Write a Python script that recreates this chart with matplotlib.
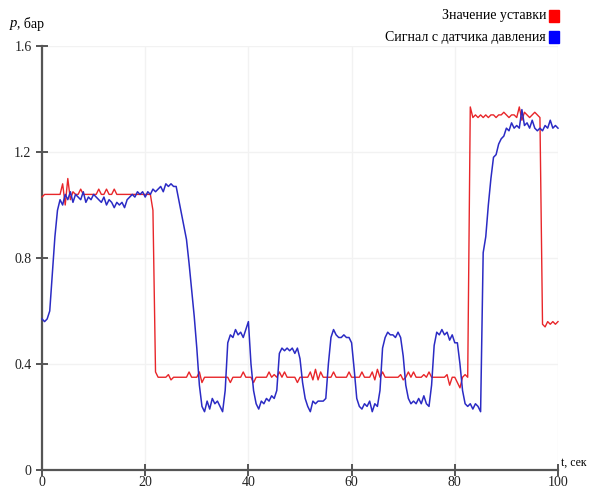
import numpy as np
import matplotlib
matplotlib.use('Agg')
import matplotlib.pyplot as plt
from matplotlib.patches import Rectangle

# samples every 0.5 s, 0..100 s
t = np.linspace(0, 100, 201)

setpoint = [
    1.03, 1.04, 1.04, 1.04, 1.04, 1.04, 1.04, 1.04, 1.08, 1.00,   # 0-4.5
    1.10, 1.02, 1.05, 1.04, 1.04, 1.06, 1.04, 1.04, 1.04, 1.04,   # 5-9.5
    1.04, 1.04, 1.06, 1.04, 1.04, 1.06, 1.04, 1.04, 1.06, 1.04,   # 10-14.5
    1.04, 1.04, 1.04, 1.04, 1.04, 1.04, 1.04, 1.04, 1.04, 1.04,   # 15-19.5
    1.04, 1.04, 1.04, 0.98, 0.37, 0.35, 0.35, 0.35, 0.35, 0.36,   # 20-24.5
    0.34, 0.35, 0.35, 0.35, 0.35, 0.35, 0.35, 0.37, 0.35, 0.35,   # 25-29.5
    0.35, 0.37, 0.33, 0.35, 0.35, 0.35, 0.35, 0.35, 0.35, 0.35,   # 30-34.5
    0.35, 0.35, 0.35, 0.33, 0.35, 0.35, 0.35, 0.35, 0.37, 0.35,   # 35-39.5
    0.35, 0.35, 0.33, 0.35, 0.35, 0.35, 0.35, 0.35, 0.37, 0.35,   # 40-44.5
    0.36, 0.35, 0.37, 0.35, 0.37, 0.35, 0.35, 0.35, 0.35, 0.33,   # 45-49.5
    0.35, 0.35, 0.35, 0.35, 0.37, 0.34, 0.38, 0.34, 0.37, 0.35,   # 50-54.5
    0.35, 0.35, 0.35, 0.37, 0.35, 0.35, 0.35, 0.35, 0.35, 0.37,   # 55-59.5
    0.35, 0.35, 0.35, 0.35, 0.37, 0.35, 0.35, 0.35, 0.37, 0.34,   # 60-64.5
    0.38, 0.35, 0.37, 0.35, 0.35, 0.35, 0.35, 0.35, 0.35, 0.36,   # 65-69.5
    0.34, 0.35, 0.37, 0.35, 0.37, 0.35, 0.35, 0.35, 0.36, 0.35,   # 70-74.5
    0.37, 0.35, 0.35, 0.35, 0.35, 0.35, 0.35, 0.36, 0.32, 0.35,   # 75-79.5
    0.35, 0.33, 0.31, 0.35, 0.36, 0.35, 1.37, 1.33, 1.34, 1.33,   # 80-84.5
    1.34, 1.33, 1.34, 1.33, 1.34, 1.34, 1.33, 1.34, 1.34, 1.35,   # 85-89.5
    1.34, 1.33, 1.34, 1.34, 1.33, 1.37, 1.32, 1.35, 1.34, 1.33,   # 90-94.5
    1.34, 1.35, 1.34, 1.33, 0.55, 0.54, 0.56, 0.55, 0.56, 0.55,   # 95-99.5
    0.56,                                                         # 100
]

pressure = [
    0.57, 0.56, 0.57, 0.60, 0.74, 0.88, 0.98, 1.02, 1.00, 1.04,   # 0-4.5
    1.02, 1.05, 1.01, 1.04, 1.03, 1.02, 1.05, 1.01, 1.03, 1.02,   # 5-9.5
    1.04, 1.03, 1.02, 1.01, 1.03, 1.00, 1.02, 1.01, 0.99, 1.01,   # 10-14.5
    1.00, 1.01, 0.99, 1.02, 1.03, 1.04, 1.03, 1.05, 1.04, 1.05,   # 15-19.5
    1.03, 1.05, 1.04, 1.06, 1.05, 1.06, 1.07, 1.05, 1.08, 1.07,   # 20-24.5
    1.08, 1.07, 1.07, 1.02, 0.97, 0.92, 0.87, 0.78, 0.68, 0.58,   # 25-29.5
    0.46, 0.32, 0.24, 0.22, 0.26, 0.23, 0.27, 0.25, 0.26, 0.24,   # 30-34.5
    0.22, 0.30, 0.48, 0.51, 0.50, 0.53, 0.51, 0.52, 0.50, 0.53,   # 35-39.5
    0.56, 0.40, 0.30, 0.25, 0.23, 0.26, 0.25, 0.27, 0.26, 0.28,   # 40-44.5
    0.27, 0.30, 0.44, 0.46, 0.45, 0.46, 0.45, 0.46, 0.44, 0.46,   # 45-49.5
    0.42, 0.33, 0.27, 0.24, 0.22, 0.26, 0.25, 0.26, 0.26, 0.26,   # 50-54.5
    0.27, 0.40, 0.50, 0.53, 0.51, 0.50, 0.50, 0.51, 0.50, 0.50,   # 55-59.5
    0.48, 0.38, 0.27, 0.24, 0.23, 0.25, 0.24, 0.26, 0.22, 0.25,   # 60-64.5
    0.24, 0.30, 0.46, 0.50, 0.52, 0.51, 0.51, 0.50, 0.52, 0.50,   # 65-69.5
    0.43, 0.32, 0.27, 0.25, 0.26, 0.25, 0.27, 0.25, 0.28, 0.25,   # 70-74.5
    0.24, 0.32, 0.47, 0.52, 0.51, 0.53, 0.51, 0.52, 0.49, 0.51,   # 75-79.5
    0.48, 0.48, 0.40, 0.30, 0.25, 0.24, 0.25, 0.23, 0.25, 0.24,   # 80-84.5
    0.22, 0.82, 0.88, 1.00, 1.10, 1.18, 1.19, 1.23, 1.25, 1.26,   # 85-89.5
    1.29, 1.28, 1.31, 1.29, 1.30, 1.29, 1.36, 1.30, 1.31, 1.29,   # 90-94.5
    1.32, 1.29, 1.28, 1.29, 1.28, 1.30, 1.29, 1.32, 1.29, 1.30,   # 95-99.5
    1.29,                                                         # 100
]

labels = ['Значение уставки', 'Сигнал с датчика давления']
colors = ['#ff0000', '#0000ff']
xticks = [0, 20, 40, 60, 80, 100]
yticks = [0, 0.4, 0.8, 1.2, 1.6]

plt.rcParams['font.family'] = ['Liberation Serif', 'DejaVu Serif']
plt.rcParams['font.size'] = 10

fig = plt.figure(figsize=(5.89, 4.88), dpi=100)
ax = fig.add_axes([42/589, 18/488, 516/589, 424/488])

ax.plot(t, setpoint, color='#e8262a', lw=1.0, clip_on=False, zorder=3)
ax.plot(t, pressure, color='#2b2bc4', lw=1.1, clip_on=False, zorder=4)

ax.set_xlim(0, 100)
ax.set_ylim(0, 1.6)
ax.set_xticks(xticks)
ax.set_yticks(yticks)
ax.set_xticklabels([str(v) for v in xticks])
ax.set_yticklabels(['0', '0.4', '0.8', '1.2', '1.6'])
ax.grid(True, color='#f2f2f2', lw=1.0)
ax.set_axisbelow(True)

for s in ['top', 'right']:
    ax.spines[s].set_visible(False)
for s in ['left', 'bottom']:
    ax.spines[s].set_color('#555555')
    ax.spines[s].set_linewidth(1.6)
ax.tick_params(direction='inout', length=9, width=1.4, color='#555555',
               labelsize=10, labelcolor='#222222', pad=3)
ax.tick_params(axis='x', pad=0)

# axis captions
fig.text(10/589, 1 - 24/488, 'p', style='italic', fontsize=10.5, va='center')
fig.text(17/589, 1 - 24/488, ', бар', fontsize=10, va='center')
fig.text(561/589, 1 - 463/488, 't, сек', fontsize=8.5, va='center')

# legend: right-aligned labels with colour squares
for i, (lab, col) in enumerate(zip(labels, colors)):
    yc = 16 + i * 21
    fig.text(546/589, 1 - yc/488, lab, ha='right', va='center', fontsize=10)
    fig.add_artist(Rectangle((549/589, 1 - (yc + 6)/488), 10/589, 12/488,
                             transform=fig.transFigure, color=col))

fig.savefig('out.png', dpi=100)
